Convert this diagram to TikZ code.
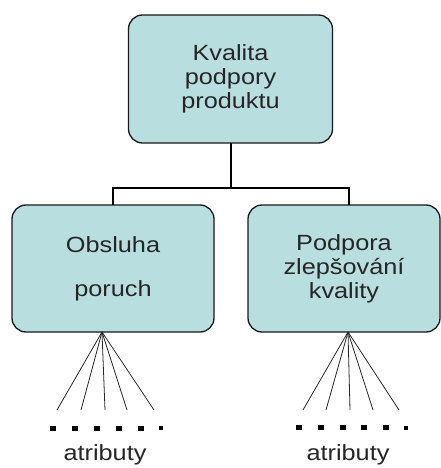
\documentclass[tikz,border=0pt]{standalone}
\usepackage{fontspec}
\setmainfont{Liberation Sans}[FakeStretch=1.15]
\definecolor{boxfill}{RGB}{184,222,224}
\definecolor{inkline}{RGB}{25,25,25}
\begin{document}
\begin{tikzpicture}[x=1pt,y=-1pt,
  box/.style={draw=inkline, line width=1.3pt, fill=boxfill, rounded corners=14pt,
    inner sep=0pt, outer sep=0pt, align=center,
    font=\fontsize{22}{24}\selectfont, text=black!85},
  conn/.style={draw=black, line width=2pt},
  fan/.style={draw=black!85, line width=0.8pt},
  dotsq/.style={fill=black, draw=none},
  lbl/.style={font=\fontsize{22}{24}\selectfont, text=black!85, inner sep=0pt}]
\useasboundingbox (0,0) rectangle (441,468);

% boxes
\node[box, minimum width=204pt, minimum height=128pt] (nA) at (230.5,79) {Kvalita\\podpory\\produktu};
\node[box, minimum width=202pt, minimum height=127pt] (nB) at (113,268.5) {Obsluha\\[20pt]poruch};
\node[box, minimum width=192pt, minimum height=127pt] (nC) at (344,268.5) {Podpora\\zlepšování\\kvality};

% tree connectors
\coordinate (j) at (230.5,188);
\coordinate (busL) at (113,188);
\coordinate (busR) at (349,188);
\draw[conn] (nA.south) -- (j);
\draw[conn, line cap=rect] (busL) -- (busR);
\draw[conn] (busL) -- (busL |- nB.north);
\draw[conn] (busR) -- (busR |- nC.north);

% attribute fans
\coordinate (fL) at (102,332);
\coordinate (fR) at (348,332);
\foreach \x in {57,81,105,127,154} \draw[fan] (fL) -- (\x,410);
\foreach \x in {303,326,350,373,399} \draw[fan] (fR) -- (\x,410);

% dotted rows
\foreach \x in {53,75,97,119,141} \fill[dotsq] (\x-2.8,425.6) rectangle (\x+2.8,430.6);
\fill[dotsq] (159.3,426.2) rectangle (163,430.2);
\foreach \x in {299,321,343,364,386} \fill[dotsq] (\x-2.8,425.3) rectangle (\x+2.8,430.3);
\fill[dotsq] (404.3,425.9) rectangle (408,429.9);

% labels
\node[lbl] (aL) at (105,455) {atributy};
\node[lbl] (aR) at (348,455) {atributy};
\end{tikzpicture}
\end{document}
